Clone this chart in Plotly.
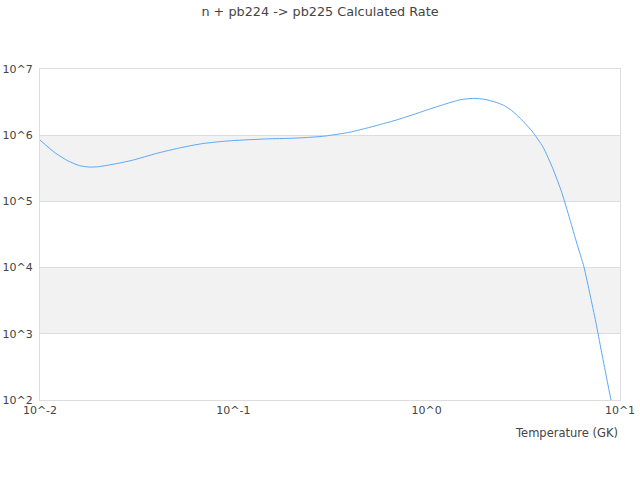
import plotly.graph_objects as go

# temperature grid (GK) and rate values
temperature = [0.01, 0.012, 0.014, 0.016, 0.018, 0.02, 0.025, 0.03, 0.04, 0.05,
               0.06, 0.07, 0.08, 0.09, 0.1, 0.15, 0.2, 0.25, 0.3, 0.4,
               0.5, 0.6, 0.7, 0.8, 0.9, 1.0, 1.25, 1.5, 1.75, 2.0,
               2.25, 2.5, 2.75, 3.0, 3.5, 4.0, 4.5, 5.0, 5.5, 6.0,
               6.5, 7.0, 7.5, 8.0, 8.5, 9.0, 10.0]
rate = [8.45e5, 5.38e5, 4.07e5, 3.47e5, 3.3e5, 3.34e5, 3.73e5, 4.18e5, 5.3e5, 6.2e5,
        6.93e5, 7.5e5, 7.84e5, 8.1e5, 8.3e5, 8.8e5, 8.98e5, 9.3e5, 9.73e5, 1.11e6,
        1.30e6, 1.50e6, 1.70e6, 1.93e6, 2.16e6, 2.40e6, 2.96e6, 3.44e6, 3.6e6, 3.48e6,
        3.18e6, 2.83e6, 2.36e6, 1.88e6, 1.16e6, 6.6e5, 3.1e5, 1.36e5, 5.4e4, 2.25e4,
        1.04e4, 3.9e3, 1.5e3, 5.6e2, 2.26e2, 9.7e1, 2.1e1]

x_ticks = [0.01, 0.1, 1, 10]
x_ticktext = ['10^-2', '10^-1', '10^0', '10^1']
y_ticks = [1e2, 1e3, 1e4, 1e5, 1e6, 1e7]
y_ticktext = ['10^2', '10^3', '10^4', '10^5', '10^6', '10^7']
bands = [(1e3, 1e4), (1e5, 1e6)]

fig = go.Figure()
fig.add_trace(go.Scatter(x=temperature, y=rate, mode='lines',
                         line=dict(color='#5ba8f5', width=1, shape='spline', smoothing=0.6),
                         showlegend=False))

for lo, hi in bands:
    fig.add_shape(type='rect', xref='paper', yref='y', x0=0, x1=1, y0=lo, y1=hi,
                  fillcolor='#f2f2f2', line_width=0, layer='below')

axis_style = dict(gridcolor='#dddddd', gridwidth=1, automargin=False,
                  showline=True, linecolor='#dddddd', linewidth=1, mirror=True,
                  zeroline=False, ticks='', tickfont=dict(size=11, color='#444'))

fig.update_xaxes(type='log', range=[-2, 1], tickvals=x_ticks, ticktext=x_ticktext,
                 showgrid=False, **axis_style)
fig.update_yaxes(type='log', range=[2, 7], tickvals=y_ticks, ticktext=y_ticktext,
                 showgrid=True, ticklabelstandoff=4, **axis_style)

fig.add_annotation(text='Temperature (GK)', xref='paper', yref='paper', x=1, y=0,
                   xanchor='right', yanchor='top', yshift=-24, showarrow=False,
                   font=dict(size=11.5, color='#444'))

fig.update_layout(
    width=640, height=480,
    title=dict(text='n + pb224 -> pb225 Calculated Rate', x=0.5, xanchor='center',
               y=0.975, yanchor='middle', font=dict(size=12.8, color='#444')),
    font=dict(family='DejaVu Sans'),
    margin=dict(l=40, r=20, t=69, b=80),
    plot_bgcolor='white', paper_bgcolor='white',
)

# drop the default body margin so the figure sits at the page corner
fig.write_html("out.html", config={'displayModeBar': False},
               post_script="document.body.style.margin='0';")
